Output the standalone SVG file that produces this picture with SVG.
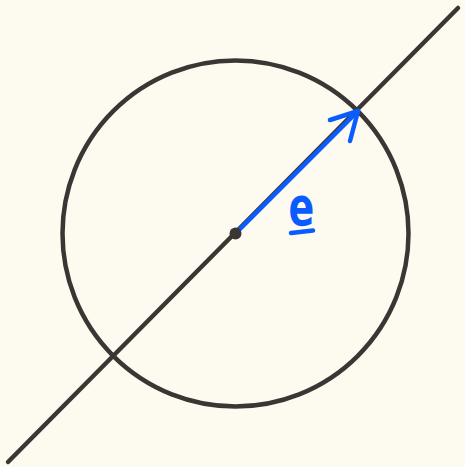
<svg xmlns="http://www.w3.org/2000/svg" width="465" height="467" viewBox="0 0 465 467">
<style>
.dark{stroke:#3b3633;stroke-width:4.5;fill:none;stroke-linecap:round}
.blue{stroke:#0a5cff;stroke-width:4.5;fill:none;stroke-linecap:round;stroke-linejoin:round}
.lbl{font-family:"DejaVu Sans",sans-serif;font-size:38px;font-weight:bold;fill:#0a5cff}
</style>
<rect width="465" height="467" fill="#fdfbf0"/>
<g id="circle"><circle class="dark" cx="235.5" cy="233.5" r="173"/></g>
<g id="connectors">
<line class="dark" x1="8" y1="462" x2="458" y2="8"/>
<polyline class="blue" points="235.5,233.5 358,111"/>
<polyline class="blue" points="330,120 358,111 350,141"/>
</g>
<g id="center"><circle cx="235.5" cy="233.5" r="6" fill="#3b3633"/></g>
<g id="label">
<text class="lbl" x="0" y="0" text-anchor="middle" transform="translate(301.5 225) scale(1 1.4)">e</text>
<line class="blue" x1="291" y1="233" x2="313" y2="230.5"/>
</g>
</svg>
